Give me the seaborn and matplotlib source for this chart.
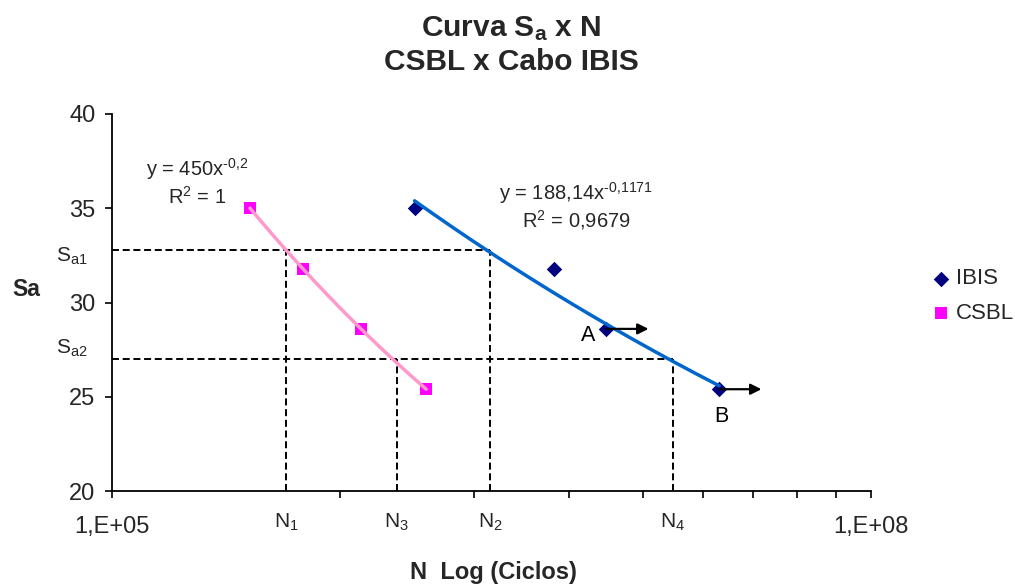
import numpy as np
import pandas as pd
import matplotlib
matplotlib.use("Agg")
import matplotlib.pyplot as plt
import matplotlib.transforms as mtransforms
from matplotlib.ticker import FixedLocator, FixedFormatter, NullFormatter
import seaborn as sns

# ---- data -------------------------------------------------------------
cabos = ["IBIS", "CSBL"]
sa_ibis = [35.0, 31.8, 28.6, 25.4]
n_ibis = [1.57e6, 5.58e6, 8.98e6, 2.51e7]
sa_csbl = [35.0, 31.8, 28.6, 25.4]
n_csbl = [351000, 567000, 964000, 1746000]

# power-law fits  Sa = a * N^b
fit_ibis = (188.14, -0.1171)
fit_csbl = (450.0, -0.2)
HY = "\u2010"  # short hyphen for the exponents
eq_ibis = ["y = 188,14x$^{" + HY + "0{,}1171}$", "R$^{2}$ = 0,9679"]
eq_csbl = ["y = 450x$^{" + HY + "0{,}2}$", "R$^{2}$ = 1"]

# reference stress levels and the cycle counts read at them
sa_levels = [32.8, 26.98]
sa_level_labels = ["S$_{a1}$", "S$_{a2}$"]
n_marks = [4.89e5, 1.334e6, 3.13e6, 1.644e7]
n_mark_labels = ["N$_1$", "N$_3$", "N$_2$", "N$_4$"]
n_mark_level = [0, 1, 0, 1]          # which Sa level each N belongs to

x_major = [1e5, 1e8]
x_major_labels = ["1,E+05", "1,E+08"]
x_minor = [1e5 * k ** 3 for k in range(2, 10)]
y_ticks = [20, 25, 30, 35, 40]

# ---- style ------------------------------------------------------------
sns.set_theme(style="white")
plt.rcParams["font.family"] = ["Liberation Sans", "DejaVu Sans"]
plt.rcParams["mathtext.default"] = "regular"

W, H = 1015, 586
fig = plt.figure(figsize=(W / 100, H / 100), dpi=100)
ax = fig.add_axes([112 / W, 1 - 491 / H, 759 / W, 377 / H])


def fx(px):
    return px / W


def fy(py):
    return 1 - py / H


pts = pd.DataFrame({
    "N": n_ibis + n_csbl,
    "Sa": sa_ibis + sa_csbl,
    "Cabo": ["IBIS"] * len(n_ibis) + ["CSBL"] * len(n_csbl),
})

# trendlines over the range of each series
rows = []
for cabo, (a, b), ns in (("IBIS", fit_ibis, n_ibis), ("CSBL", fit_csbl, n_csbl)):
    n = np.geomspace(min(ns), max(ns), 200)
    rows.append(pd.DataFrame({"N": n, "Sa": a * n ** b, "Cabo": cabo}))
trend = pd.concat(rows, ignore_index=True)

# dashed guide lines
dash = dict(color="black", lw=1.4, linestyle=(0, (3.6, 1.9)), zorder=1)
for lvl in sa_levels:
    nmax = max(n for n, k in zip(n_marks, n_mark_level) if sa_levels[k] == lvl)
    ax.plot([x_major[0], nmax], [lvl, lvl], **dash)
for n, k in zip(n_marks, n_mark_level):
    ax.plot([n, n], [y_ticks[0], sa_levels[k]], **dash)

marker_style = {"IBIS": ("D", "#000080", 62), "CSBL": ("s", "#FF00FF", 64)}
for cabo in cabos:
    mk, col, size = marker_style[cabo]
    sns.scatterplot(data=pts[pts["Cabo"] == cabo], x="N", y="Sa", marker=mk,
                    color=col, s=size, linewidth=0, ax=ax, zorder=2, label=cabo)

sns.lineplot(data=trend, x="N", y="Sa", hue="Cabo",
             palette={"IBIS": "#0066CC", "CSBL": "#FF99CC"},
             linewidth=2.5, sort=False, legend=False, ax=ax, zorder=3)

# arrows on the run-out points A and B
for lab, n, sa, off in (("A", n_ibis[2], sa_ibis[2], (-13, -4.5)),
                        ("B", n_ibis[3], sa_ibis[3], (1.5, -20))):
    ax.annotate("", xy=(n * 1.47, sa), xytext=(n, sa),
                arrowprops=dict(arrowstyle="-|>", color="black", lw=1.6,
                                mutation_scale=16, shrinkA=0, shrinkB=0),
                zorder=4)
    ax.annotate(lab, xy=(n, sa), xytext=off, textcoords="offset points",
                ha="center", va="center", fontsize=15.5, color="black")

# axes
ax.set_xscale("log")
ax.set_xlim(x_major[0], x_major[-1])
ax.set_ylim(y_ticks[0], y_ticks[-1])
ax.xaxis.set_major_locator(FixedLocator(x_major))
ax.xaxis.set_major_formatter(FixedFormatter(x_major_labels))
ax.xaxis.set_minor_locator(FixedLocator(x_minor))
ax.xaxis.set_minor_formatter(NullFormatter())
ax.set_yticks(y_ticks)
ax.set_yticklabels([str(t) for t in y_ticks])

for side in ("top", "right"):
    ax.spines[side].set_visible(False)
for side in ("left", "bottom"):
    ax.spines[side].set_color("black")
    ax.spines[side].set_linewidth(1.3)

ax.tick_params(axis="x", which="both", direction="out", length=5, width=1.2,
               color="black", bottom=True, labelsize=17, pad=13)
ax.tick_params(axis="y", which="both", direction="out", length=5, width=1.2,
               color="black", left=True, labelsize=17, pad=7)
ax.grid(False)

ax.set_xlabel("N  Log (Ciclos)", fontsize=17, fontweight="bold")
ax.xaxis.set_label_coords((493 - 112) / 759, (491 - 573) / 377)
ax.xaxis.label.set_va("center")
ax.set_ylabel("Sa", fontsize=16.5, fontweight="bold", rotation=0,
              ha="center", va="center")
ax.yaxis.set_label_coords((26 - 112) / 759, (491 - 290) / 377)

# labels for the N marks under the axis
btrans = mtransforms.blended_transform_factory(ax.transData, ax.transAxes)
for n, lab in zip(n_marks, n_mark_labels):
    ax.text(n, (491 - 528) / 377, lab, transform=btrans, ha="center",
            va="baseline", fontsize=15)

# labels for the Sa levels left of the axis
for lab, py in zip(sa_level_labels, (256, 348)):
    fig.text(fx(72), fy(py), lab, ha="center", va="center", fontsize=15)

# trendline equations
for line, py in zip(eq_csbl, (169, 197)):
    fig.text(fx(197), fy(py), line, ha="center", va="center", fontsize=14.5)
for line, py in zip(eq_ibis, (193, 220)):
    fig.text(fx(576), fy(py), line, ha="center", va="center", fontsize=14.5)

# title
fig.text(fx(511), fy(29), "Curva S$_a$ x N", ha="center", va="center",
         fontsize=21.5, fontweight="bold")
fig.text(fx(511), fy(62), "CSBL x Cabo IBIS", ha="center", va="center",
         fontsize=21.5, fontweight="bold")

# legend to the right of the plot
handles, labels = ax.get_legend_handles_labels()
ax.legend(handles, labels, loc="center left",
          bbox_to_anchor=(fx(928), fy(296)), bbox_transform=fig.transFigure,
          frameon=False, fontsize=16, handletextpad=0.05, handlelength=1.2,
          labelspacing=0.6, borderpad=0, borderaxespad=0)

fig.savefig("out.png", dpi=100)
